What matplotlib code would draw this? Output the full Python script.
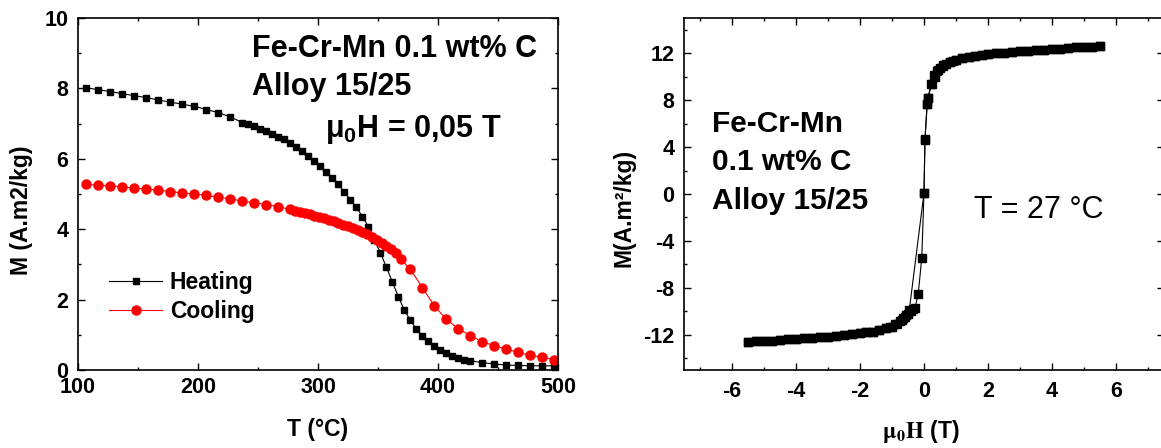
import numpy as np
import matplotlib
matplotlib.use("Agg")
import matplotlib.pyplot as plt
from matplotlib.ticker import MultipleLocator

plt.rcParams['font.family'] = ['Liberation Sans', 'DejaVu Sans']
plt.rcParams['font.weight'] = 'bold'
plt.rcParams['axes.unicode_minus'] = False
plt.rcParams['mathtext.fontset'] = 'custom'
plt.rcParams['mathtext.rm'] = 'Liberation Sans:bold'
plt.rcParams['mathtext.bf'] = 'Liberation Sans:bold'
plt.rcParams['mathtext.it'] = 'Liberation Sans:bold'

# --- M(T) at mu0H = 0.05 T ---
heat_T = [107, 117, 127, 137, 147, 157, 167, 177, 187, 197, 207, 217, 227,
          237, 242, 247, 252, 257, 262, 267, 272, 277, 282, 287, 292, 297,
          302, 307, 312, 317, 322, 327, 332, 337, 342, 347, 352, 357, 362,
          367, 372, 377, 382, 387, 392, 397, 402, 407, 412, 417, 422, 427,
          437, 447, 457, 467, 477, 487, 497]
heat_M = [8.02, 7.96, 7.91, 7.85, 7.79, 7.74, 7.67, 7.61, 7.55, 7.49, 7.40, 7.31, 7.19,
          7.03, 6.98, 6.92, 6.85, 6.78, 6.71, 6.63, 6.55, 6.45, 6.34, 6.22, 6.08, 5.94,
          5.80, 5.62, 5.45, 5.27, 5.05, 4.84, 4.62, 4.36, 4.07, 3.70, 3.33, 2.92, 2.50,
          2.08, 1.70, 1.41, 1.17, 0.97, 0.82, 0.69, 0.58, 0.49, 0.41, 0.34, 0.29, 0.26,
          0.21, 0.17, 0.14, 0.13, 0.12, 0.12, 0.12]

cool_T = [107, 117, 127, 137, 147, 157, 167, 177, 187, 197, 207, 217, 227, 237,
          247, 257, 267, 277, 281, 285, 289, 293, 297, 301, 305, 309, 313, 317,
          321, 325, 329, 333, 337, 341, 345, 349, 353, 357, 361, 365, 369, 377,
          387, 397, 407, 417, 427, 437, 447, 457, 467, 477, 487, 497]
cool_M = [5.27, 5.25, 5.24, 5.20, 5.17, 5.14, 5.11, 5.07, 5.03, 5.00, 4.96, 4.91, 4.86, 4.80,
          4.75, 4.70, 4.64, 4.56, 4.53, 4.49, 4.45, 4.42, 4.38, 4.35, 4.31, 4.27, 4.22, 4.17,
          4.12, 4.08, 4.03, 3.98, 3.92, 3.85, 3.77, 3.69, 3.61, 3.52, 3.43, 3.33, 3.15, 2.86,
          2.34, 1.82, 1.44, 1.17, 0.98, 0.80, 0.69, 0.59, 0.50, 0.42, 0.36, 0.29]

# --- hysteresis loop at 27 C ---
H_down = [5.5, 5.25, 5.0, 4.75, 4.5, 4.25, 4.0, 3.75, 3.5, 3.25, 3.0, 2.75, 2.5,
          2.25, 2.0, 1.8, 1.6, 1.4, 1.2, 1.0, 0.9, 0.8, 0.7, 0.6, 0.5, 0.4, 0.3,
          0.22, 0.13, 0.1, 0.03, 0.0, -0.46, -0.55, -0.65, -0.75, -0.9, -1.05, -1.2,
          -1.4, -1.6, -1.8, -2.0, -2.25, -2.5, -2.75, -3.0, -3.25, -3.5, -3.75,
          -4.0, -4.25, -4.5, -4.75, -5.0, -5.25, -5.5]
M_down = [12.58, 12.57, 12.55, 12.50, 12.45, 12.40, 12.35, 12.30, 12.25, 12.20, 12.15, 12.10, 12.05,
          12.00, 11.92, 11.86, 11.80, 11.70, 11.60, 11.45, 11.35, 11.25, 11.12, 10.95, 10.75, 10.45, 10.10,
          9.40, 8.20, 7.70, 4.65, 0.10, -9.90, -10.30, -10.60, -10.85, -11.10, -11.30, -11.45,
          -11.60, -11.72, -11.80, -11.88, -11.96, -12.03, -12.09, -12.15, -12.20, -12.25, -12.30,
          -12.35, -12.40, -12.45, -12.50, -12.54, -12.57, -12.60]
H_up = [-5.5, -5.25, -5.0, -4.75, -4.5, -4.25, -4.0, -3.75, -3.5, -3.25, -3.0, -2.75, -2.5,
        -2.25, -2.0, -1.8, -1.6, -1.4, -1.2, -1.0, -0.85, -0.7, -0.6, -0.5, -0.4, -0.33,
        -0.28, -0.18, -0.07, 0.0, 0.03, 0.1, 0.13, 0.24, 0.34, 0.45, 0.6, 0.8, 1.0,
        1.2, 1.4, 1.6, 1.8, 2.0, 2.25, 2.5, 2.75, 3.0, 3.25, 3.5, 3.75, 4.0, 4.25,
        4.5, 4.75, 5.0, 5.25, 5.5]
M_up = [-12.60, -12.57, -12.54, -12.50, -12.45, -12.40, -12.35, -12.30, -12.25, -12.20, -12.15, -12.09, -12.03,
        -11.96, -11.88, -11.80, -11.72, -11.60, -11.45, -11.30, -11.05, -10.75, -10.50, -10.20, -9.95, -9.80,
        -9.69, -8.50, -5.46, 0.10, 4.60, 7.70, 8.20, 9.40, 10.00, 10.55, 10.98, 11.26, 11.45,
        11.58, 11.68, 11.76, 11.83, 11.90, 11.98, 12.05, 12.10, 12.15, 12.20, 12.25, 12.30, 12.35, 12.40,
        12.45, 12.50, 12.55, 12.57, 12.58]

W, Hpx = 1161, 448
fig = plt.figure(figsize=(W / 100, Hpx / 100), dpi=100)


def px_axes(left, right, top, bottom):
    return fig.add_axes([left / W, (Hpx - bottom) / Hpx, (right - left) / W, (bottom - top) / Hpx])


def style_axes(ax):
    for s in ax.spines.values():
        s.set_linewidth(1.2)
    ax.tick_params(which='both', direction='in', top=True, right=True, width=1.0)
    ax.tick_params(which='major', length=5)
    ax.tick_params(which='minor', length=2.5)


# ---------- left panel ----------
ax1 = px_axes(78, 558, 18, 370)
ax1.plot(heat_T, heat_M, color='black', marker='s', ms=5, lw=0.8, label='Heating')
ax1.plot(cool_T, cool_M, color='red', marker='o', ms=6.5, lw=0.8, label='Cooling')
ax1.set_xlim(100, 500)
ax1.set_ylim(0, 10)
ax1.xaxis.set_major_locator(MultipleLocator(100))
ax1.xaxis.set_minor_locator(MultipleLocator(50))
ax1.yaxis.set_major_locator(MultipleLocator(2))
ax1.yaxis.set_minor_locator(MultipleLocator(1))
style_axes(ax1)
ax1.tick_params(axis='both', labelsize=15.5)
ax1.tick_params(axis='x', pad=5)
ax1.tick_params(axis='y', pad=7)
ax1.set_xlabel('T (°C)', fontsize=16.5, fontweight='bold')
ax1.xaxis.set_label_coords(0.5, -0.135)
ax1.set_ylabel('M (A.m2/kg)', fontsize=16.5, fontweight='bold')
ax1.yaxis.set_label_coords(-0.094, 0.455)

ax1.text(0.3625, 0.889, 'Fe-Cr-Mn 0.1 wt% C', transform=ax1.transAxes,
         fontsize=22, fontweight='bold', va='baseline', ha='left')
ax1.text(0.3625, 0.781, 'Alloy 15/25', transform=ax1.transAxes,
         fontsize=22, fontweight='bold', va='baseline', ha='left')
ax1.text(0.515, 0.662, r'μ$_\mathbf{0}$H = 0,05 T', transform=ax1.transAxes,
         fontsize=22, fontweight='bold', va='baseline', ha='left')

ax1.legend(loc='upper left', bbox_to_anchor=(0.065, 0.28), frameon=False,
           fontsize=16.5, handlelength=2.3, handletextpad=0.35, labelspacing=0.25,
           borderpad=0, borderaxespad=0, numpoints=1)

# ---------- right panel ----------
ax2 = px_axes(684, 1164, 18, 370)
ax2.plot(H_down, M_down, color='black', marker='s', ms=5.8, lw=0.8)
ax2.plot(H_up, M_up, color='black', marker='s', ms=5.8, lw=0.8)
ax2.set_xlim(-7.5, 7.5)
ax2.set_ylim(-15, 15)
ax2.xaxis.set_major_locator(MultipleLocator(2))
ax2.xaxis.set_minor_locator(MultipleLocator(1))
ax2.yaxis.set_major_locator(MultipleLocator(4))
ax2.yaxis.set_minor_locator(MultipleLocator(2))
style_axes(ax2)
ax2.tick_params(axis='both', labelsize=15.5)
ax2.tick_params(axis='x', pad=8)
ax2.tick_params(axis='y', pad=7)
ax2.set_xlabel(r'$\mathbf{\mu_0H}$ (T)', fontsize=16.5, fontweight='bold', math_fontfamily='stix')
ax2.xaxis.set_label_coords(0.494, -0.135)
ax2.set_ylabel('M(A.m²/kg)', fontsize=16.5, fontweight='bold')
ax2.yaxis.set_label_coords(-0.102, 0.46)

for txt, yb in [('Fe-Cr-Mn', 0.676), ('0.1 wt% C', 0.568), ('Alloy 15/25', 0.457)]:
    ax2.text(0.058, yb, txt, transform=ax2.transAxes, fontsize=21.5,
             fontweight='bold', va='baseline', ha='left')
ax2.text(0.604, 0.432, 'T = 27 °C', transform=ax2.transAxes, fontsize=22,
         fontweight='normal', va='baseline', ha='left')

fig.savefig('out.png', dpi=100)
